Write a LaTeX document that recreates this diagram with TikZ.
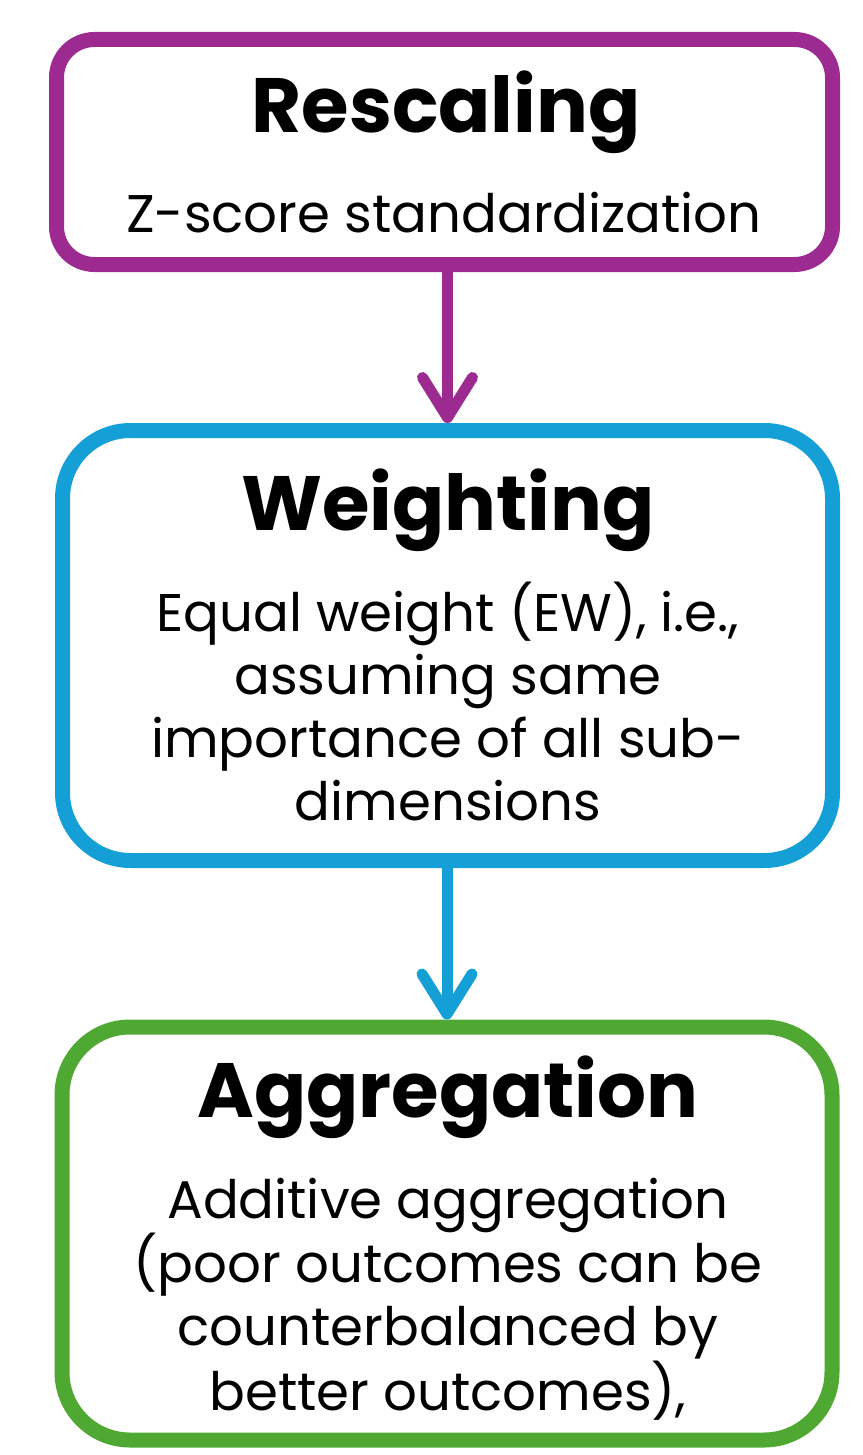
\documentclass[tikz,border=0pt]{standalone}
\usepackage{fontspec}
\setmainfont{Poppins}
\usetikzlibrary{arrows.meta}
\definecolor{cpurple}{HTML}{9D2A91}
\definecolor{cblue}{HTML}{14A0D7}
\definecolor{cgreen}{HTML}{4FA832}
\tikzset{
  box/.style={draw, line width=15pt, rounded corners=#1, fill=white, inner sep=0pt},
  title/.style={anchor=base, inner sep=0pt, font=\fontsize{77}{77}\selectfont\bfseries},
  body/.style={anchor=base, inner sep=0pt, align=center, font=\fontsize{53}{63}\selectfont},
  conn/.style={line width=11pt, -{Straight Barb[length=40pt, width=50pt, line cap=round, line join=round]}},
}
\begin{document}
\begin{tikzpicture}[x=1pt,y=-1pt]
\useasboundingbox (0,0) rectangle (862,1455);
\node[box=38pt, draw=cpurple, minimum width=776pt, minimum height=225pt] (resc) at (444.5,152) {};
\node[box=68pt, draw=cblue, minimum width=770pt, minimum height=430pt] (weigh) at (447.5,645.5) {};
\node[box=68pt, draw=cgreen, minimum width=770pt, minimum height=413pt] (aggr) at (447,1233.5) {};
\node[title] (rescT) at (446,133) {Rescaling};
\node[body] (rescB) at (444,233) {Z-score standardization};
\node[title] (weighT) at (448,530) {Weighting};
\node[body] (weighB) at (448,820) {Equal weight (EW), i.e.,\\assuming same\\importance of all sub-\\dimensions};
\node[title] (aggrT) at (448,1117) {Aggregation};
\node[body] (aggrB) at (448,1410) {Additive aggregation\\(poor outcomes can be\\counterbalanced by\\better outcomes),};
\draw[conn, cpurple] (weigh.north |- resc.south) -- (weigh.north);
\draw[conn, cblue] (aggr.north |- weigh.south) -- (aggr.north);
\end{tikzpicture}
\end{document}
